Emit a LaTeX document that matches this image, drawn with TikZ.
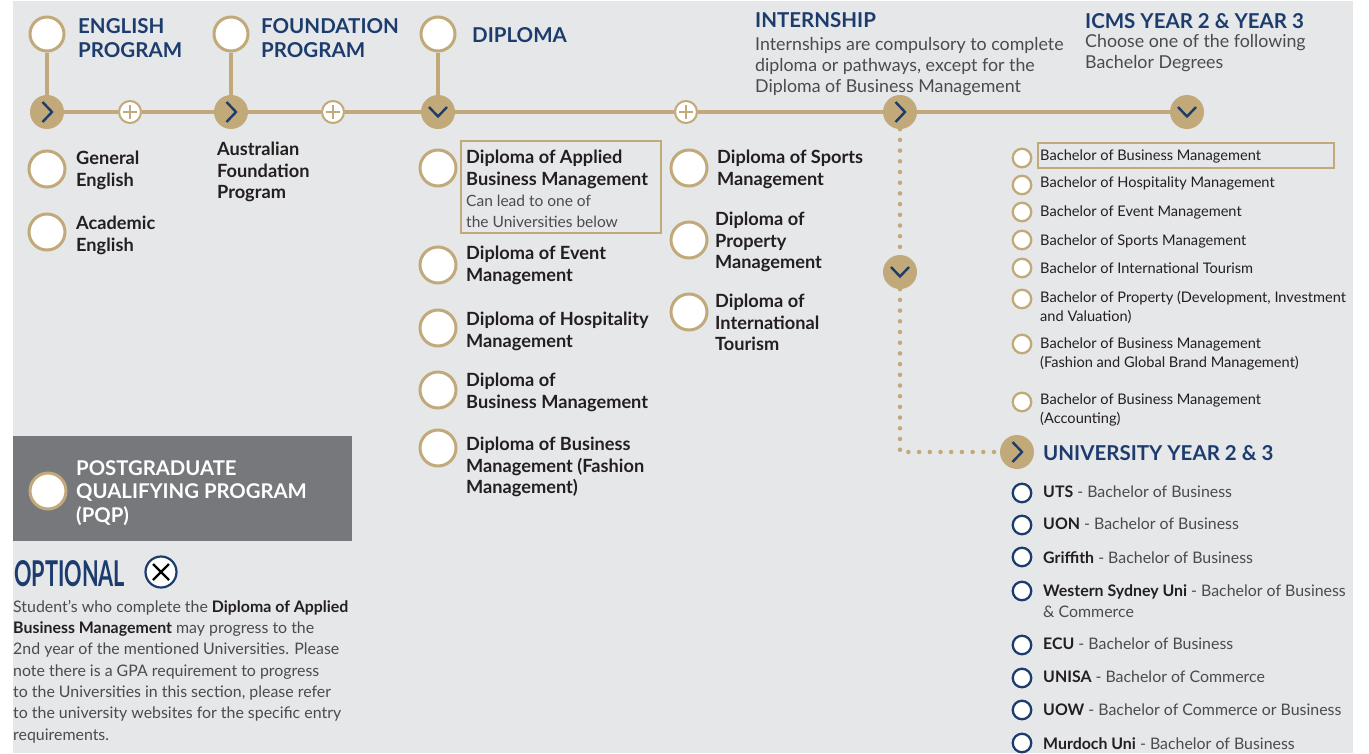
\documentclass[tikz,border=0pt]{standalone}
\usepackage{graphicx}
\usepackage{fontspec}
\setmainfont{Lato}
\usetikzlibrary{positioning,calc}

\definecolor{gold}{HTML}{C1A979}
\definecolor{navy}{HTML}{1D3C6E}
\definecolor{ink}{HTML}{231F20}
\definecolor{graytxt}{HTML}{4B4B4D}
\definecolor{panel}{HTML}{E6E7E9}
\definecolor{pqpgray}{HTML}{77787B}

\tikzset{
  ring/.style={circle, draw=gold, line width=3pt, fill=white, minimum size=34pt, inner sep=0pt},
  bigring/.style={ring, minimum size=36pt},
  smallring/.style={ring, line width=2.3pt, minimum size=18.5pt},
  unring/.style={smallring, draw=navy},
  knob/.style={circle, fill=gold, minimum size=34pt, inner sep=0pt},
  knobright/.style={knob, path picture={\draw[navy, line width=2.4pt]
      ([shift={(-4.5pt,10pt)}]path picture bounding box.center) -- ++(9.5pt,-10pt) -- ++(-9.5pt,-10pt);}},
  knobdown/.style={knob, path picture={\draw[navy, line width=2.4pt]
      ([shift={(-9pt,5pt)}]path picture bounding box.center) -- ++(9pt,-9.5pt) -- ++(9pt,9.5pt);}},
  plusring/.style={circle, draw=gold, line width=2pt, fill=white, minimum size=22pt, inner sep=0pt,
    path picture={\draw[gold, line width=2pt]
      ([xshift=-7pt]path picture bounding box.center) -- ++(14pt,0pt)
      ([yshift=-7pt]path picture bounding box.center) -- ++(0pt,14pt);}},
  crossring/.style={circle, draw=navy, line width=2.2pt, fill=white, minimum size=31pt, inner sep=0pt,
    path picture={\draw[black, line width=2.2pt]
      ([shift={(-8pt,-8pt)}]path picture bounding box.center) -- ++(16pt,16pt)
      ([shift={(-8pt,8pt)}]path picture bounding box.center) -- ++(16pt,-16pt);}},
  track/.style={gold, line width=4.5pt},
  dotline/.style={gold, line width=4.5pt, line cap=round, dash pattern=on 0pt off 10.7pt},
  txt/.style={anchor=north west, inner sep=0pt, align=left},
  heading/.style={txt, font=\fontsize{20.5}{24.5}\selectfont\bfseries, text=navy},
  item/.style={txt, font=\fontsize{18.2}{21.5}\selectfont\bfseries, text=ink},
  note/.style={txt, font=\fontsize{17.8}{21.3}\selectfont, text=graytxt},
  bach/.style={txt, font=\fontsize{14.6}{19}\selectfont, text=ink},
  uni/.style={txt, font=\fontsize{15.9}{21}\selectfont, text=graytxt},
}

\begin{document}
\begin{tikzpicture}[x=1pt, y=-1pt]
\useasboundingbox (0,0) rectangle (1369,753);
% panel
\fill[panel] (12.5,1) rectangle (1353,753);

% top rings
\node[ring] (engtop) at (47,34) {};
\node[ring] (fndtop) at (231,34) {};
\node[ring] (diptop) at (438,34) {};

% timeline knobs
\node[knobright] (engknob) at (47,112) {};
\node[plusring] (engplus) at (130,112) {};
\node[knobright] (fndknob) at (231,112) {};
\node[plusring] (fndplus) at (333,112) {};
\node[knobdown] (dipknob) at (438,112) {};
\node[plusring] (dipplus) at (686,112) {};
\node[knobright] (intknob) at (900,112) {};
\node[knobdown] (icmsknob) at (1187,112) {};
\node[knobdown] (midknob) at (900,272) {};
\node[knobright] (uniknob) at (1017,452) {};

% timeline
\draw[track] (engtop) -- (engknob);
\draw[track] (fndtop) -- (fndknob);
\draw[track] (diptop) -- (dipknob);
\draw[track] (engknob) -- (engplus) -- (fndknob) -- (fndplus) -- (dipknob)
  -- (dipplus) -- (intknob) -- (icmsknob);
\draw[dotline] (intknob) -- (midknob);
\draw[dotline] (midknob) |- (uniknob);

% headings
\node[heading] (englbl) at (78,18) {ENGLISH\\PROGRAM};
\node[heading] (fndlbl) at (261,18) {FOUNDATION\\PROGRAM};
\node[heading] (diplbl) at (472,27) {DIPLOMA};
\node[heading] (intlbl) at (755,12) {INTERNSHIP};
\node[note] (intnote) at (755,37) {Internships are compulsory to complete\\diploma or pathways, except for the\\Diploma of Business Management};
\node[heading] (icmslbl) at (1085,13) {ICMS YEAR 2 \& YEAR 3};
\node[note] (icmsnote) at (1085,34) {Choose one of the following\\Bachelor Degrees};

% english and foundation
\node[bigring] (genring) at (47,169) {};
\node[item] (genlbl) at (76,151) {General\\English};
\node[bigring] (acaring) at (47,232) {};
\node[item] (acalbl) at (76,216) {Academic\\English};
\node[item] (auslbl) at (217,142) {Australian\\Foundation\\Program};

% diplomas
\draw[gold, line width=2pt] (461,141) rectangle (661,233);
\node[bigring] (appring) at (438,168) {};
\node[item] (applbl) at (466,150) {Diploma of Applied\\Business Management};
\node[txt, font=\fontsize{15.5}{21}\selectfont, text=graytxt] (appnote) at (466,195) {Can lead to one of\\the Universities below};
\node[bigring] (evtring) at (438,265) {};
\node[item] (evtlbl) at (466,246) {Diploma of Event\\Management};
\node[bigring] (hosring) at (438,328) {};
\node[item] (hoslbl) at (466,312) {Diploma of Hospitality\\Management};
\node[bigring] (busring) at (438,390) {};
\node[item] (buslbl) at (466,373) {Diploma of\\Business Management};
\node[bigring] (fasring) at (438,448) {};
\node[item] (faslbl) at (466,437) {Diploma of Business\\Management (Fashion\\Management)};
\node[bigring] (sptring) at (689,168) {};
\node[item] (sptlbl) at (717,150) {Diploma of Sports\\Management};
\node[bigring] (proring) at (689,240) {};
\node[item] (prolbl) at (715,212) {Diploma of\\Property\\Management};
\node[bigring] (touring) at (689,312) {};
\node[item] (toulbl) at (715,294) {Diploma of\\International\\Tourism};

% bachelor degrees
\draw[gold, line width=2pt] (1038,143) rectangle (1334,168);
\foreach \y/\t/\lbl [count=\i] in {
    158/150/{Bachelor of Business Management},
    185/177/{Bachelor of Hospitality Management},
    212/206/{Bachelor of Event Management},
    240/235/{Bachelor of Sports Management},
    268/263/{Bachelor of International Tourism},
    299/291/{Bachelor of Property (Development, Investment\\and Valuation)},
    344/338/{Bachelor of Business Management\\(Fashion and Global Brand Management)},
    402/394/{Bachelor of Business Management\\(Accounting)}} {
  \node[smallring] (bach\i) at (1022,\y) {};
  \node[bach] (bachlbl\i) at (1040,\t) {\lbl};
}

% universities
\node[heading] (unilbl) at (1043,445) {UNIVERSITY YEAR 2 \& 3};
\foreach \y/\t/\uname/\deg [count=\i] in {
    493/486/UTS/{Bachelor of Business},
    525/518/UON/{Bachelor of Business},
    557/551/Griffith/{Bachelor of Business},
    591/584/Western Sydney Uni/{Bachelor of Business\\\& Commerce},
    645/638/ECU/{Bachelor of Business},
    678/671/UNISA/{Bachelor of Commerce},
    710/704/UOW/{Bachelor of Commerce or Business},
    743/737/Murdoch Uni/{Bachelor of Business}} {
  \node[unring] (uni\i) at (1022,\y) {};
  \node[uni] (unilbl\i) at (1043,\t) {\textcolor{ink}{\bfseries \uname} - \deg};
}

% postgraduate qualifying program
\fill[pqpgray] (12.5,436) rectangle (352,541);
\node[bigring] (pqpring) at (48,491) {};
\node[txt, font=\fontsize{20.3}{23.5}\selectfont\bfseries, text=white] (pqplbl) at (76,460) {POSTGRADUATE\\QUALIFYING PROGRAM\\(PQP)};

% optional
\node[txt, text=navy] (optlbl) at (14,560) {\resizebox{111pt}{26pt}{\bfseries OPTIONAL}};
\node[crossring] (optx) at (161,572) {};
\node[txt, font=\fontsize{15.9}{21.3}\selectfont, text=graytxt] (optpara) at (13,600) {Student’s who complete the \textcolor{ink}{\bfseries Diploma of Applied}\\\textcolor{ink}{\bfseries Business Management} may progress to the\\2nd year of the mentioned Universities. Please\\note there is a GPA requirement to progress\\to the Universities in this section, please refer\\to the university websites for the specific entry\\requirements.};
\end{tikzpicture}
\end{document}
